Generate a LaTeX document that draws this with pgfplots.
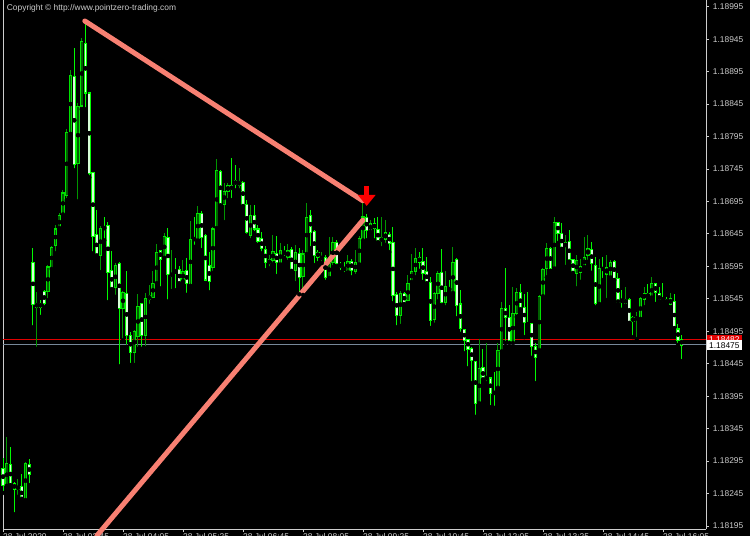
\documentclass[border=0pt]{standalone}
\usepackage{fontspec}
\setmainfont{Liberation Sans}
\usepackage{pgfplots}
\pgfplotsset{compat=1.18}
\usepackage{pgfplotstable}
\usetikzlibrary{arrows.meta}

\definecolor{bullfill}{RGB}{0,95,0}
\definecolor{bulledge}{RGB}{0,225,0}
\definecolor{bullwick}{RGB}{0,150,0}
\definecolor{bearfill}{RGB}{215,255,215}
\definecolor{bearedge}{RGB}{0,255,0}
\definecolor{bearwick}{RGB}{0,250,0}
\definecolor{trend}{RGB}{248,128,114}
\definecolor{axisgrey}{RGB}{205,205,205}
\definecolor{bidgrey}{RGB}{119,136,153}
\definecolor{askred}{RGB}{225,0,0}

\pgfplotsset{
  bullonly/.style={restrict expr to domain={\thisrow{C}-\thisrow{O}}{0:1}},
  bearonly/.style={restrict expr to domain={\thisrow{C}-\thisrow{O}}{-1:-0.000001}},
}

\pgfplotstableread{
i O H L C
0 1.18284 1.18300 1.18246 1.18258
1 1.18258 1.18332 1.18257 1.18292
2 1.18290 1.18317 1.18258 1.18261
3 1.18261 1.18263 1.18213 1.18253
4 1.18253 1.18267 1.18240 1.18258
5 1.18257 1.18275 1.18237 1.18238
6 1.18238 1.18294 1.18235 1.18292
7 1.18290 1.18298 1.18258 1.18275
8 1.18602 1.18623 1.18501 1.18537
9 1.18532 1.18555 1.18468 1.18538
10 1.18538 1.18543 1.18517 1.18532
11 1.18557 1.18558 1.18532 1.18538
12 1.18557 1.18597 1.18543 1.18595
13 1.18592 1.18626 1.18591 1.18625
14 1.18629 1.18659 1.18615 1.18654
15 1.18654 1.18677 1.18654 1.18674
16 1.18677 1.18712 1.18675 1.18709
17 1.18705 1.18806 1.18697 1.18802
18 1.18802 1.18897 1.18799 1.18889
19 1.18889 1.18931 1.18743 1.18754
20 1.18754 1.18846 1.18695 1.18842
21 1.18842 1.18946 1.18837 1.18942
22 1.18939 1.18974 1.18837 1.18863
23 1.18863 1.18863 1.18732 1.18739
24 1.18740 1.18740 1.18615 1.18642
25 1.18645 1.18682 1.18612 1.18612
26 1.18612 1.18657 1.18586 1.18654
27 1.18655 1.18671 1.18635 1.18653
28 1.18659 1.18663 1.18540 1.18586
29 1.18589 1.18618 1.18560 1.18561
30 1.18563 1.18600 1.18548 1.18597
31 1.18600 1.18602 1.18441 1.18531
32 1.18531 1.18557 1.18481 1.18555
33 1.18554 1.18588 1.18471 1.18489
34 1.18489 1.18494 1.18443 1.18463
35 1.18463 1.18497 1.18443 1.18495
36 1.18489 1.18552 1.18468 1.18534
37 1.18538 1.18538 1.18468 1.18489
38 1.18489 1.18554 1.18469 1.18546
39 1.18545 1.18566 1.18534 1.18552
40 1.18548 1.18588 1.18543 1.18569
41 1.18571 1.18629 1.18569 1.18617
42 1.18620 1.18620 1.18561 1.18606
43 1.18609 1.18646 1.18608 1.18642
44 1.18640 1.18654 1.18541 1.18583
45 1.18581 1.18620 1.18557 1.18585
46 1.18589 1.18608 1.18558 1.18585
47 1.18591 1.18595 1.18569 1.18572
48 1.18574 1.18605 1.18572 1.18588
49 1.18589 1.18608 1.18551 1.18569
50 1.18568 1.18665 1.18565 1.18637
51 1.18640 1.18671 1.18625 1.18635
52 1.18638 1.18688 1.18635 1.18677
53 1.18677 1.18680 1.18620 1.18640
54 1.18643 1.18645 1.18569 1.18575
55 1.18598 1.18617 1.18555 1.18572
56 1.18595 1.18655 1.18585 1.18654
57 1.18655 1.18760 1.18654 1.18743
58 1.18742 1.18743 1.18689 1.18692
59 1.18692 1.18723 1.18663 1.18712
60 1.18711 1.18723 1.18697 1.18719
61 1.18720 1.18762 1.18697 1.18714
62 1.18728 1.18751 1.18712 1.18722
63 1.18720 1.18746 1.18712 1.18726
64 1.18725 1.18726 1.18688 1.18692
65 1.18692 1.18697 1.18642 1.18648
66 1.18643 1.18689 1.18635 1.18674
67 1.18675 1.18689 1.18646 1.18654
68 1.18654 1.18659 1.18628 1.18635
69 1.18638 1.18648 1.18615 1.18622
70 1.18622 1.18626 1.18589 1.18602
71 1.18600 1.18612 1.18592 1.18606
72 1.18605 1.18643 1.18598 1.18618
73 1.18617 1.18642 1.18580 1.18602
74 1.18602 1.18631 1.18598 1.18620
75 1.18618 1.18626 1.18608 1.18615
76 1.18609 1.18629 1.18602 1.18620
77 1.18622 1.18625 1.18588 1.18589
78 1.18589 1.18628 1.18569 1.18617
79 1.18617 1.18623 1.18552 1.18580
80 1.18581 1.18620 1.18551 1.18615
81 1.18617 1.18692 1.18614 1.18671
82 1.18674 1.18682 1.18623 1.18648
83 1.18648 1.18651 1.18597 1.18611
84 1.18617 1.18620 1.18600 1.18609
85 1.18608 1.18617 1.18600 1.18611
86 1.18608 1.18612 1.18571 1.18578
87 1.18580 1.18640 1.18577 1.18600
88 1.18602 1.18640 1.18594 1.18632
89 1.18632 1.18635 1.18595 1.18600
90 1.18598 1.18602 1.18586 1.18594
91 1.18594 1.18602 1.18583 1.18591
92 1.18589 1.18612 1.18586 1.18603
93 1.18603 1.18606 1.18578 1.18589
94 1.18588 1.18620 1.18580 1.18602
95 1.18600 1.18642 1.18598 1.18638
96 1.18638 1.18695 1.18635 1.18672
97 1.18671 1.18675 1.18635 1.18651
98 1.18651 1.18666 1.18648 1.18662
99 1.18662 1.18669 1.18635 1.18654
100 1.18652 1.18671 1.18632 1.18635
101 1.18634 1.18671 1.18623 1.18640
102 1.18637 1.18666 1.18628 1.18648
103 1.18646 1.18648 1.18617 1.18631
104 1.18632 1.18655 1.18538 1.18551
105 1.18552 1.18555 1.18501 1.18520
106 1.18520 1.18557 1.18503 1.18554
107 1.18554 1.18555 1.18537 1.18540
108 1.18543 1.18581 1.18538 1.18569
109 1.18574 1.18614 1.18571 1.18589
110 1.18588 1.18623 1.18578 1.18609
111 1.18609 1.18617 1.18588 1.18602
112 1.18603 1.18623 1.18571 1.18585
113 1.18588 1.18609 1.18569 1.18571
114 1.18571 1.18578 1.18500 1.18512
115 1.18514 1.18555 1.18505 1.18554
116 1.18554 1.18588 1.18541 1.18585
117 1.18586 1.18622 1.18535 1.18540
118 1.18540 1.18588 1.18532 1.18565
119 1.18563 1.18574 1.18557 1.18558
120 1.18555 1.18625 1.18554 1.18602
121 1.18605 1.18608 1.18515 1.18535
122 1.18538 1.18558 1.18491 1.18500
123 1.18498 1.18498 1.18461 1.18481
124 1.18483 1.18483 1.18438 1.18468
125 1.18469 1.18471 1.18415 1.18451
126 1.18449 1.18449 1.18363 1.18384
127 1.18386 1.18483 1.18384 1.18438
128 1.18440 1.18468 1.18421 1.18421
129 1.18421 1.18477 1.18415 1.18426
130 1.18424 1.18424 1.18378 1.18400
131 1.18404 1.18432 1.18377 1.18400
132 1.18409 1.18477 1.18408 1.18466
133 1.18466 1.18540 1.18464 1.18531
134 1.18531 1.18592 1.18477 1.18517
135 1.18517 1.18535 1.18477 1.18481
136 1.18478 1.18563 1.18477 1.18523
137 1.18523 1.18561 1.18517 1.18555
138 1.18555 1.18568 1.18529 1.18531
139 1.18532 1.18552 1.18486 1.18508
140 1.18508 1.18555 1.18505 1.18506
141 1.18508 1.18508 1.18454 1.18472
142 1.18472 1.18477 1.18415 1.18455
143 1.18469 1.18551 1.18466 1.18549
144 1.18551 1.18592 1.18549 1.18591
145 1.18592 1.18631 1.18578 1.18623
146 1.18623 1.18625 1.18588 1.18591
147 1.18594 1.18671 1.18592 1.18662
148 1.18663 1.18663 1.18631 1.18646
149 1.18646 1.18662 1.18622 1.18623
150 1.18625 1.18643 1.18594 1.18631
151 1.18634 1.18651 1.18602 1.18606
152 1.18606 1.18606 1.18585 1.18586
153 1.18585 1.18612 1.18561 1.18606
154 1.18586 1.18606 1.18571 1.18595
155 1.18595 1.18640 1.18594 1.18609
156 1.18612 1.18643 1.18602 1.18623
157 1.18622 1.18632 1.18585 1.18600
158 1.18597 1.18609 1.18532 1.18538
159 1.18538 1.18606 1.18537 1.18592
160 1.18592 1.18609 1.18574 1.18591
161 1.18583 1.18612 1.18543 1.18594
162 1.18583 1.18605 1.18578 1.18602
163 1.18603 1.18605 1.18574 1.18577
164 1.18577 1.18585 1.18541 1.18541
165 1.18545 1.18558 1.18528 1.18541
166 1.18538 1.18563 1.18534 1.18545
167 1.18545 1.18546 1.18508 1.18512
168 1.18517 1.18518 1.18486 1.18512
169 1.18515 1.18525 1.18483 1.18518
170 1.18515 1.18548 1.18514 1.18546
171 1.18545 1.18563 1.18532 1.18554
172 1.18554 1.18568 1.18548 1.18548
173 1.18548 1.18578 1.18547 1.18569
174 1.18568 1.18569 1.18537 1.18554
175 1.18554 1.18563 1.18541 1.18543
176 1.18545 1.18569 1.18538 1.18543
177 1.18545 1.18548 1.18537 1.18538
178 1.18537 1.18554 1.18532 1.18545
179 1.18541 1.18552 1.18500 1.18500
180 1.18500 1.18506 1.18474 1.18483
181 1.18484 1.18489 1.18449 1.18475
}\candles

\pgfplotstableread{
x p
21.81 1.18973
95.95 1.18696
}\trendA
\pgfplotstableread{
x p
95.95 1.18666
25.01 1.18180
}\trendB
\pgfplotstableread{
x p
96.99 1.18719
96.99 1.18688
}\signal
\pgfplotstableread{
x p
0 1.18475
187.47 1.18475
}\bidline
\pgfplotstableread{
x p
0 1.18482
187.47 1.18482
}\askline

\begin{document}
\begin{tikzpicture}
\fill[black] (-3bp,-7bp) rectangle (747bp,529bp);
\begin{axis}[
  at={(0,0)}, anchor=south west,
  scale only axis, width=703bp, height=529bp,
  xmin=0, xmax=187.47, ymin=190.4, ymax=1005.3,
  clip=false,
  axis x line*=bottom, axis y line*=right,
  axis line style={-, draw=axisgrey, line width=0.8bp},
  tick align=outside, major tick length=3bp,
  tick style={draw=axisgrey, line width=0.8bp},
  xtick={0,16,32,48,64,80,96,112,128,144,160,176},
  xticklabels={28 Jul 2020,28 Jul 02:45,28 Jul 04:05,28 Jul 05:25,28 Jul 06:45,28 Jul 08:05,28 Jul 09:25,28 Jul 10:45,28 Jul 12:05,28 Jul 13:25,28 Jul 14:45,28 Jul 16:05},
  ytick={195,245,295,345,395,445,495,545,595,645,695,745,795,845,895,945,995},
  yticklabels={1.18195,1.18245,1.18295,1.18345,1.18395,1.18445,1.18495,1.18545,1.18595,1.18645,1.18695,1.18745,1.18795,1.18845,1.18895,1.18945,1.18995},
  yticklabel style={anchor=west, inner sep=0pt, xshift=3.7bp},
  xticklabel style={anchor=north west, inner sep=0pt, yshift=-1bp},
  ticklabel style={font=\fontsize{8.4bp}{10bp}\selectfont, text=axisgrey},
]
\draw[axisgrey, line width=0.8bp] (rel axis cs:0,0) -- (rel axis cs:0,1);

\addplot[bidgrey, line width=1bp] table[x=x, y expr={(\thisrow{p}-1.18)*100000}] {\bidline};
\addplot[askred, line width=1bp] table[x=x, y expr={(\thisrow{p}-1.18)*100000}] {\askline};

% wicks
\addplot[only marks, mark=none, bullonly, error bars/.cd, y dir=plus, y explicit, error mark=none,
  error bar style={draw=bullwick, line width=1bp}]
  table[x=i, y expr={(\thisrow{L}-1.18)*100000}, y error plus expr={(\thisrow{H}-\thisrow{L})*100000}] {\candles};
\addplot[only marks, mark=none, bearonly, error bars/.cd, y dir=plus, y explicit, error mark=none,
  error bar style={draw=bearwick, line width=1bp}]
  table[x=i, y expr={(\thisrow{L}-1.18)*100000}, y error plus expr={(\thisrow{H}-\thisrow{L})*100000}] {\candles};
% bodies: outline then fill
\addplot[only marks, mark=none, bullonly, error bars/.cd, y dir=both, y explicit, error mark=none,
  error bar style={draw=bulledge, line width=3.4bp}]
  table[x=i, y expr={((\thisrow{O}+\thisrow{C})/2-1.18)*100000}, y error expr={abs(\thisrow{C}-\thisrow{O})*50000+0.8}] {\candles};
\addplot[only marks, mark=none, bullonly, error bars/.cd, y dir=both, y explicit, error mark=none,
  error bar style={draw=bullfill, line width=1.8bp}]
  table[x=i, y expr={((\thisrow{O}+\thisrow{C})/2-1.18)*100000}, y error expr={max(abs(\thisrow{C}-\thisrow{O})*50000-0.8,0)}] {\candles};
\addplot[only marks, mark=none, bearonly, error bars/.cd, y dir=both, y explicit, error mark=none,
  error bar style={draw=bearedge, line width=3.4bp}]
  table[x=i, y expr={((\thisrow{O}+\thisrow{C})/2-1.18)*100000}, y error expr={abs(\thisrow{C}-\thisrow{O})*50000+0.8}] {\candles};
\addplot[only marks, mark=none, bearonly, error bars/.cd, y dir=both, y explicit, error mark=none,
  error bar style={draw=bearfill, line width=1.8bp}]
  table[x=i, y expr={((\thisrow{O}+\thisrow{C})/2-1.18)*100000}, y error expr={max(abs(\thisrow{C}-\thisrow{O})*50000-0.8,0)}] {\candles};

\addplot[trend, line width=5bp, line cap=round] table[x=x, y expr={(\thisrow{p}-1.18)*100000}] {\trendA};
\addplot[trend, line width=5bp, line cap=round] table[x=x, y expr={(\thisrow{p}-1.18)*100000}] {\trendB};
\addplot[red, line width=5bp, -{Triangle[width=17bp,length=11bp]}] table[x=x, y expr={(\thisrow{p}-1.18)*100000}] {\signal};

\node[anchor=west, fill=askred, text=white, inner xsep=2bp, inner ysep=1.8bp, font=\fontsize{8.4bp}{10bp}\selectfont, xshift=1bp] at (axis cs:187.47,482) {1.18482};
\node[anchor=west, fill=white, text=black, inner xsep=2bp, inner ysep=1.8bp, font=\fontsize{8.4bp}{10bp}\selectfont, xshift=1bp, yshift=-1bp] at (axis cs:187.47,475) {1.18475};
\node[anchor=west, inner sep=0pt, text=axisgrey, font=\fontsize{8.4bp}{10bp}\selectfont, xshift=3.7bp, yshift=-8.3bp] at (rel axis cs:0,1) {Copyright © http://www.pointzero-trading.com};
\end{axis}
\pgfresetboundingbox
\useasboundingbox (-3bp,-7bp) rectangle (747bp,529bp);
\end{tikzpicture}
\end{document}
